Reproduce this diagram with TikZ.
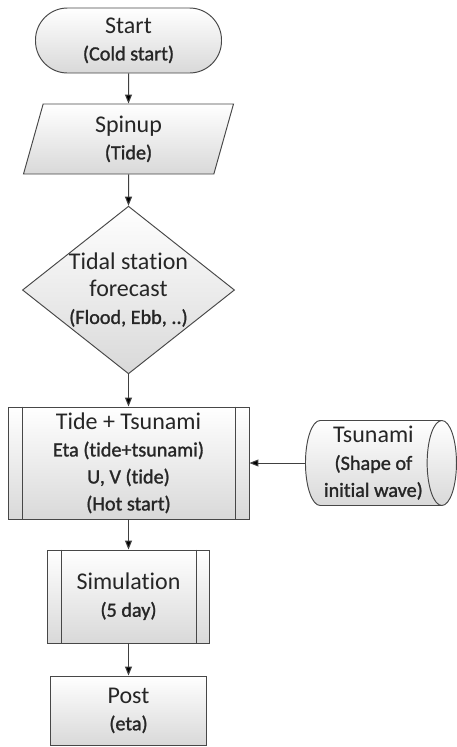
\documentclass[tikz,border=0pt]{standalone}
\usepackage{fontspec}
\setmainfont{Carlito}[Ligatures=NoCommon]
\newfontfamily\subfont{Carlito}[Ligatures=NoCommon, FakeBold=1.3]
\usetikzlibrary{shapes.geometric, arrows.meta}

\newcommand{\hd}[1]{{\normalfont\fontsize{24}{27}\selectfont #1}}

\tikzset{
    block/.style={draw=black!72, line width=0.95pt, top color=white, bottom color=black!15,
        align=center, text=black!85, font=\subfont\fontsize{20.2}{27}\selectfont, inner sep=0pt},
    terminal/.style={block, rectangle, rounded corners=32pt, minimum width=186pt, minimum height=65pt},
    inout/.style={block, trapezium, trapezium left angle=67, trapezium right angle=113,
        trapezium stretches body=true, minimum width=210pt, minimum height=70pt},
    decision/.style={block, diamond, aspect=1.265, minimum width=210pt, minimum height=166pt},
    process/.style={block, rectangle},
    storage/.style={block, cylinder, shape border rotate=0, aspect=0.4,
        minimum width=85pt, minimum height=151pt},
    bar/.style={draw=black!72, line width=0.95pt}
}

\begin{document}
\begin{tikzpicture}[x=1pt, y=-1pt, >={Triangle[length=9pt, width=7pt]}, semithick]
    \useasboundingbox[fill=white] (0,0) rectangle (457,747);

    \node[terminal] (start) at (128.5,40.5) {\hd{Start}\\(Cold start)};
    \node[inout, node distance=98.5pt, below of=start] (spinup) {\hd{Spinup}\\(Tide)};
    \node[decision, node distance=151pt, below of=spinup] (forecast) {\hd{Tidal station}\\\hd{forecast}\\(Flood, Ebb, ..)};
    \node[process, minimum width=241pt, minimum height=112pt, node distance=173pt, below of=forecast] (tide)
        {\hd{Tide + Tsunami}\\Eta (tide+tsunami)\\U, V (tide)\\(Hot start)};
    \node[storage, anchor=west] (tsunami) at (305,463) {\hd{Tsunami}\\(Shape of\\initial wave)};
    \node[process, minimum width=162pt, minimum height=93pt, node distance=133.5pt, below of=tide] (sim) {\hd{Simulation}\\(5 day)};
    \node[process, minimum width=156pt, minimum height=69pt, node distance=114pt, below of=sim] (post) {\hd{Post}\\(eta)};

    % double side bars of the process boxes
    \draw[bar] ([xshift=15pt]tide.north west) -- ([xshift=15pt]tide.south west);
    \draw[bar] ([xshift=-14pt]tide.north east) -- ([xshift=-14pt]tide.south east);
    \draw[bar] ([xshift=14pt]sim.north west) -- ([xshift=14pt]sim.south west);
    \draw[bar] ([xshift=-14pt]sim.north east) -- ([xshift=-14pt]sim.south east);

    \path[->, draw=black!75, line width=1pt]
    (start) edge (spinup)
    (spinup) edge (forecast)
    (forecast) edge (tide)
    (tsunami) edge (tide)
    (tide) edge (sim)
    (sim) edge (post);
\end{tikzpicture}
\end{document}
